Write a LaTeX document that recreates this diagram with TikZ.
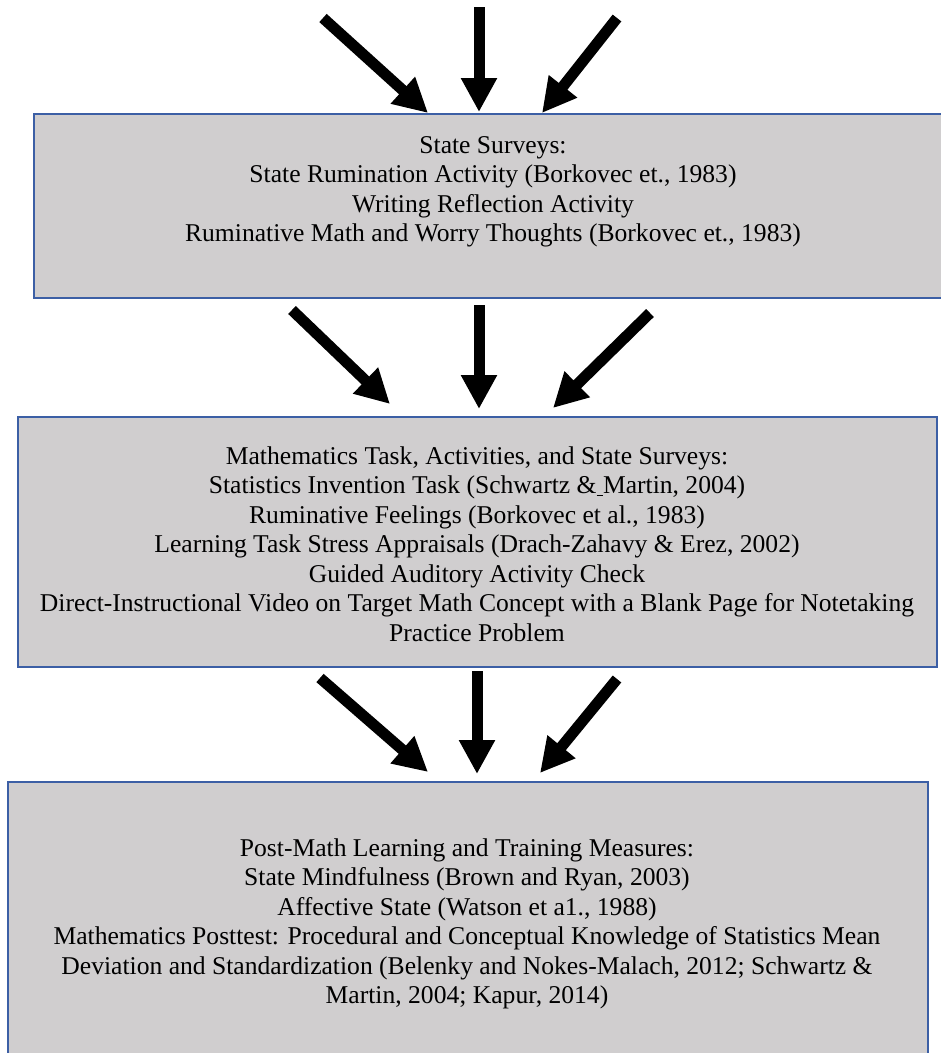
\documentclass[tikz,border=0pt]{standalone}
\usepackage{fontspec}
\setmainfont{Liberation Serif}
\usetikzlibrary{arrows.meta}
\definecolor{boxfill}{RGB}{208,206,207}
\definecolor{boxline}{RGB}{60,95,165}
\begin{document}
\begin{tikzpicture}[x=1pt,y=-1pt,
  panel/.style={draw=boxline, line width=1.5pt, fill=boxfill, inner sep=0pt},
  txt/.style={font=\fontsize{25.6}{29.5}\selectfont, align=center, inner sep=0pt, anchor=center},
  bigarrow/.style={line width=11pt, line cap=butt, -{Triangle[length=34pt,width=34pt]}}]
\useasboundingbox (0,0) rectangle (941,1053);

% boxes
\node[panel, minimum width=918pt, minimum height=184pt] (b1) at (493,206) {};
\node[panel, minimum width=919pt, minimum height=250pt] (b2) at (477.5,542) {};
\node[panel, minimum width=920pt, minimum height=290pt] (b3) at (468,927) {};

% texts
\node[txt] (t1) at (493,192) {State Surveys:\\
State Rumination Activity (Borkovec et., 1983)\\
Writing Reflection Activity\\
Ruminative Math and Worry Thoughts (Borkovec et., 1983)};

\node[txt] (t2) at (477,544) {Mathematics Task, Activities, and State Surveys:\\
Statistics Invention Task (Schwartz \&\underline{\ }Martin, 2004)\\
Ruminative Feelings (Borkovec et al., 1983)\\
Learning Task Stress Appraisals (Drach-Zahavy \& Erez, 2002)\\
Guided Auditory Activity Check\\
Direct-Instructional Video on Target Math Concept with a Blank Page for Notetaking\\
Practice Problem};

\node[txt] (t3) at (467,924) {Post-Math Learning and Training Measures:\\
State Mindfulness (Brown and Ryan, 2003)\\
Affective State (Watson et a1., 1988)\\
Mathematics Posttest: Procedural and Conceptual Knowledge of Statistics Mean\\
Deviation and Standardization (Belenky and Nokes-Malach, 2012; Schwartz \&\\
Martin, 2004; Kapur, 2014)};

% arrow end points
\coordinate (a1s) at (323,18);  \coordinate (a1e) at (428,113);
\coordinate (a2s) at (479,7);   \coordinate (a2e) at (479,112);
\coordinate (a3s) at (617,18);  \coordinate (a3e) at (542,113);

\coordinate (c1s) at (292,310); \coordinate (c1e) at (390,404);
\coordinate (c2s) at (479,305); \coordinate (c2e) at (479,409);
\coordinate (c3s) at (650,313); \coordinate (c3e) at (553,408);

\coordinate (d1s) at (320,678); \coordinate (d1e) at (428,772);
\coordinate (d2s) at (477,671); \coordinate (d2e) at (477,774);
\coordinate (d3s) at (617,679); \coordinate (d3e) at (540,773);

\draw[bigarrow] (a1s) -- (a1e);
\draw[bigarrow] (a2s) -- (a2e);
\draw[bigarrow] (a3s) -- (a3e);
\draw[bigarrow] (c1s) -- (c1e);
\draw[bigarrow] (c2s) -- (c2e);
\draw[bigarrow] (c3s) -- (c3e);
\draw[bigarrow] (d1s) -- (d1e);
\draw[bigarrow] (d2s) -- (d2e);
\draw[bigarrow] (d3s) -- (d3e);
\end{tikzpicture}
\end{document}
